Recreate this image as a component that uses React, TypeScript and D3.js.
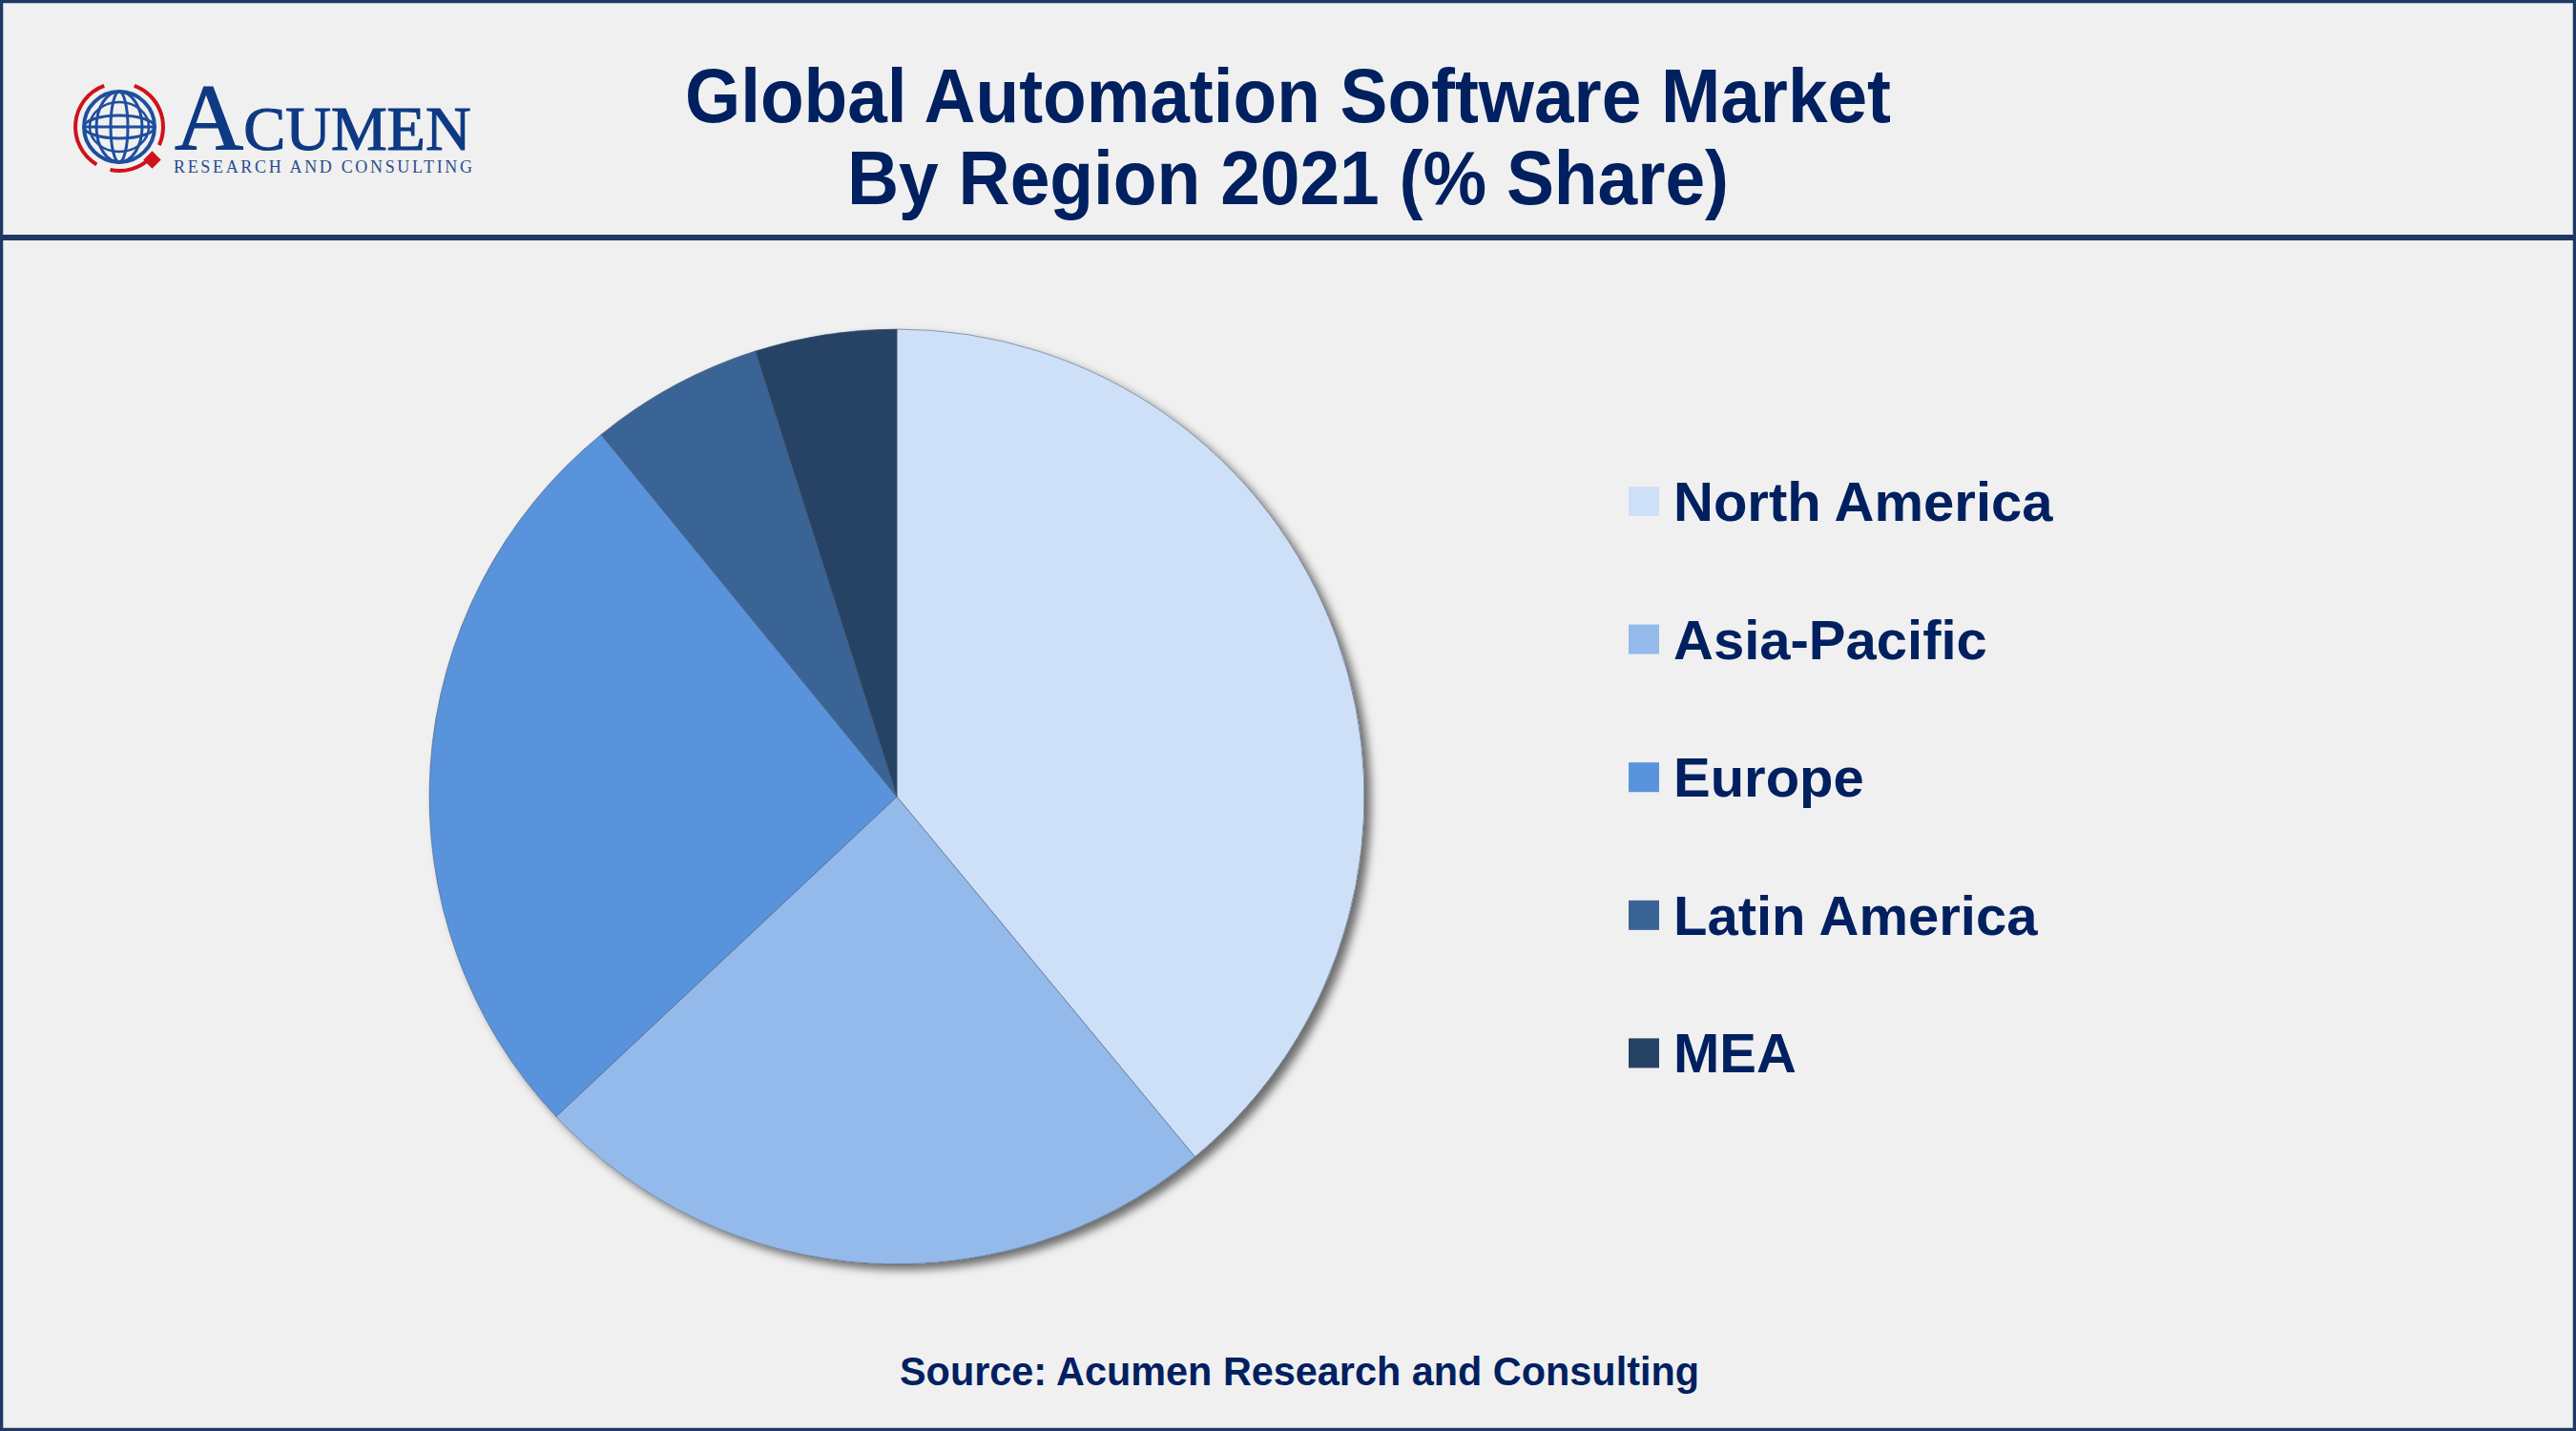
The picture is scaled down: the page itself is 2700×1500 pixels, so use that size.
import React from 'react';
import * as d3 from 'd3';

const regions = ['North America', 'Asia-Pacific', 'Europe', 'Latin America', 'MEA'];
const shares = [39.0, 24.0, 26.1, 6.0, 4.9];
const colors = ['#CDE0F7', '#94BAEB', '#5993DB', '#3A6496', '#264366'];

const titleLines = ['Global Automation Software Market', 'By Region 2021 (% Share)'];
const titleWidths = [1264, 924];
const sourceText = 'Source: Acumen Research and Consulting';

const W = 2700;
const H = 1500;
const navy = '#002060';
const frame = '#1F3864';

const Logo = () => {
  // globe + red arrows + wordmark
  const cx = 125, cy = 133, r = 37;
  const ring = d3.arc().innerRadius(44).outerRadius(48);
  const segs = [
    [-2.6, -0.35],
    [0.35, 2.0],
    [2.35, 3.35],
  ];
  return (
    <g>
      <g transform={`translate(${cx},${cy})`}>
        {segs.map(([a0, a1], i) => (
          <path key={i} d={ring({ startAngle: a0, endAngle: a1 } as any) || ''} fill="#D0121B" />
        ))}
        <circle r={r} fill="none" stroke="#1F4E9E" strokeWidth={4} />
        <ellipse rx={24} ry={r} fill="none" stroke="#1F4E9E" strokeWidth={3} />
        <ellipse rx={9} ry={r} fill="none" stroke="#1F4E9E" strokeWidth={3} />
        <ellipse rx={r} ry={12} fill="none" stroke="#1F4E9E" strokeWidth={3} />
        <ellipse rx={r - 6} ry={26} fill="none" stroke="#1F4E9E" strokeWidth={2.5} />
        <line x1={-r} x2={r} y1={0} y2={0} stroke="#1F4E9E" strokeWidth={3} />
        <rect x={28} y={28} width={13} height={13} fill="#D0121B" transform="rotate(45 34.5 34.5)" />
      </g>
      <text x={183} y={157} fontFamily="'Liberation Serif', serif" fill="#0E3A84"
        stroke="#0E3A84" strokeWidth={1.2}>
        <tspan fontSize={100}>A</tspan>
        <tspan fontSize={66}>CUMEN</tspan>
      </text>
      <text x={182} y={181} fontFamily="'Liberation Serif', serif" fontSize={18} fill="#2A4C8C"
        textLength={313} lengthAdjust="spacing">RESEARCH AND CONSULTING</text>
    </g>
  );
};

export default function App() {
  const cx = 940, cy = 835, radius = 490;
  const data = regions.map((name, i) => ({ name, value: shares[i], color: colors[i] }));
  const pie = d3.pie<any>().value(d => d.value).sort(null);
  const arc = d3.arc<any>().innerRadius(0).outerRadius(radius);
  const arcs = pie(data);

  const legendX = 1707;
  const legendY0 = 546;
  const legendStep = 144.6;

  return (
    <svg width={W} height={H} style={{ position: 'absolute', left: 0, top: 0, display: 'block' }}
      fontFamily="'Liberation Sans', Arial, sans-serif">
      <defs>
        <filter id="shadow" x="-10%" y="-10%" width="120%" height="120%">
          <feDropShadow dx={7} dy={6} stdDeviation={5} floodColor="#000" floodOpacity={0.55} />
        </filter>
      </defs>
      <rect x={0} y={0} width={W} height={H} fill="#F0F0F0" />
      <rect x={1.5} y={1.5} width={W - 3} height={H - 3} fill="none" stroke={frame} strokeWidth={3.5} />
      <rect x={0} y={246} width={W} height={6} fill={frame} />

      <Logo />

      {titleLines.map((t, i) => (
        <text key={t} x={1350} y={128 + i * 86} textAnchor="middle" fontSize={80}
          fontWeight="bold" fill={navy} textLength={titleWidths[i]}
          lengthAdjust="spacingAndGlyphs">{t}</text>
      ))}

      <g transform={`translate(${cx},${cy})`}>
        <circle r={radius} fill="#CDE0F7" filter="url(#shadow)" />
        {arcs.map(a => (
          <path key={a.data.name} d={arc(a) || ''} fill={a.data.color}
            stroke="#4A5A70" strokeOpacity={0.55} strokeWidth={1} />
        ))}
      </g>

      {data.map((d, i) => (
        <g key={d.name} transform={`translate(${legendX},${legendY0 + i * legendStep})`}>
          <rect x={0} y={-36} width={32} height={31} fill={d.color} />
          <text x={47} y={0} fontSize={58} fontWeight="bold" fill={navy}>{d.name}</text>
        </g>
      ))}

      <text x={1362} y={1452} textAnchor="middle" fontSize={42} fontWeight="bold" fill={navy}
        textLength={838} lengthAdjust="spacingAndGlyphs">
        {sourceText}
      </text>
    </svg>
  );
}
